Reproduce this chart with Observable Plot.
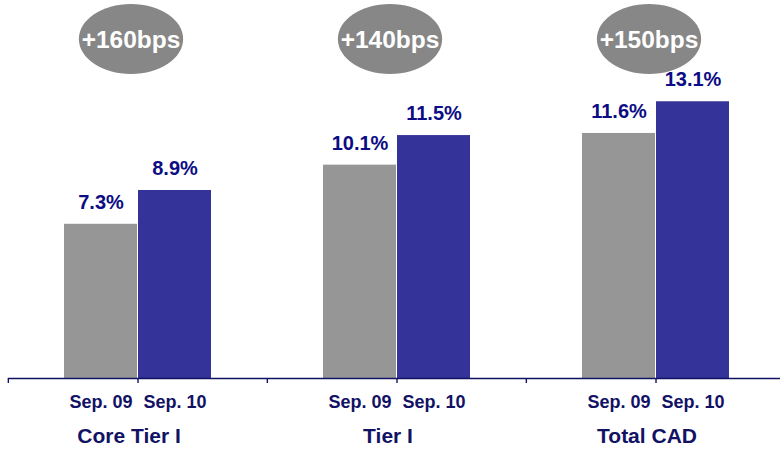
<!DOCTYPE html>
<html>
<head>
<meta charset="utf-8">
<script src="https://cdn.jsdelivr.net/npm/d3@7"></script>
<script src="https://cdn.jsdelivr.net/npm/@observablehq/plot@0.6"></script>
<style>
  html, body { margin: 0; padding: 0; background: #fff; }
  #chart svg { display: block; }
</style>
</head>
<body>
<div id="chart"></div>
<script>
// Capital ratios, Sep. 09 vs Sep. 10
const groups = ["Core Tier I", "Tier I", "Total CAD"];
const periods = ["Sep. 09", "Sep. 10"];
const sep09 = [7.3, 10.1, 11.6];
const sep10 = [8.9, 11.5, 13.1];
const changes = ["+160bps", "+140bps", "+150bps"];

const rows = groups.flatMap((g, i) => [
  {group: g, period: periods[0], value: sep09[i]},
  {group: g, period: periods[1], value: sep10[i]}
]);
const badges = groups.map((g, i) => ({group: g, label: changes[i]}));

const W = 780, H = 451;
const mLeft = 7, mRight = -5;
const facetW = (W - mLeft - mRight) / groups.length;

const navy = "#0c0c84";
const axisNavy = "#121264";
const font = "Arial, 'Liberation Sans', sans-serif";

// ellipse symbol for the change badges
const ellipse = {
  draw(ctx, size) {
    const r = Math.sqrt(size / Math.PI);
    const rx = r * 1.49, ry = r, k = 0.5522848;
    ctx.moveTo(rx, 0);
    ctx.bezierCurveTo(rx, ry * k, rx * k, ry, 0, ry);
    ctx.bezierCurveTo(-rx * k, ry, -rx, ry * k, -rx, 0);
    ctx.bezierCurveTo(-rx, -ry * k, -rx * k, -ry, 0, -ry);
    ctx.bezierCurveTo(rx * k, -ry, rx, -ry * k, rx, 0);
    ctx.closePath();
  }
};

const chart = Plot.plot({
  width: W,
  height: H,
  marginLeft: mLeft,
  marginRight: mRight,
  marginTop: 40,
  marginBottom: 73,
  style: {fontFamily: font, background: "#fff", overflow: "visible"},
  fx: {domain: groups, padding: 0, axis: null},
  x: {domain: periods, paddingInner: 0.0133, paddingOuter: 0.7356, axis: null},
  y: {domain: [0, 16], axis: null},
  color: {domain: periods, range: ["#969696", "#333399"]},
  marks: [
    Plot.barY(rows, {fx: "group", x: "period", y: "value", fill: "period"}),
    Plot.ruleY([0], {stroke: axisNavy, strokeWidth: 1.4}),
    // tick marks at each group's edge and between its two bars
    Plot.ruleX(badges, {fx: "group", x: null, y1: 0, y2: 0, insetBottom: -5, stroke: axisNavy, strokeWidth: 1.4}),
    Plot.ruleX(badges, {fx: "group", x: null, y1: 0, y2: 0, insetBottom: -5, dx: -facetW / 2, stroke: axisNavy, strokeWidth: 1.4}),
    Plot.text(rows, {
      fx: "group", x: "period", y: "value",
      text: d => d.value.toFixed(1) + "%",
      dy: -22, fill: navy, fontSize: 20, fontWeight: "bold"
    }),
    Plot.text(rows, {
      fx: "group", x: "period", text: "period", frameAnchor: "bottom", lineAnchor: "middle",
      dy: 24, fill: axisNavy, fontSize: 18, fontWeight: "bold"
    }),
    Plot.text(badges, {
      fx: "group", text: "group", frameAnchor: "bottom", lineAnchor: "middle",
      dy: 58, dx: -9, fill: axisNavy, fontSize: 21, fontWeight: "bold"
    }),
    Plot.dot(badges, {
      fx: "group", frameAnchor: "top", dy: -1.5, dx: -7,
      r: 35, symbol: ellipse, fill: "#878787", stroke: "none"
    }),
    Plot.text(badges, {
      fx: "group", text: "label", frameAnchor: "top", lineAnchor: "middle",
      dy: 0, dx: -7, fill: "#fff", fontSize: 24.5, fontWeight: "bold"
    })
  ]
});

document.getElementById("chart").appendChild(chart);
</script>
</body>
</html>
